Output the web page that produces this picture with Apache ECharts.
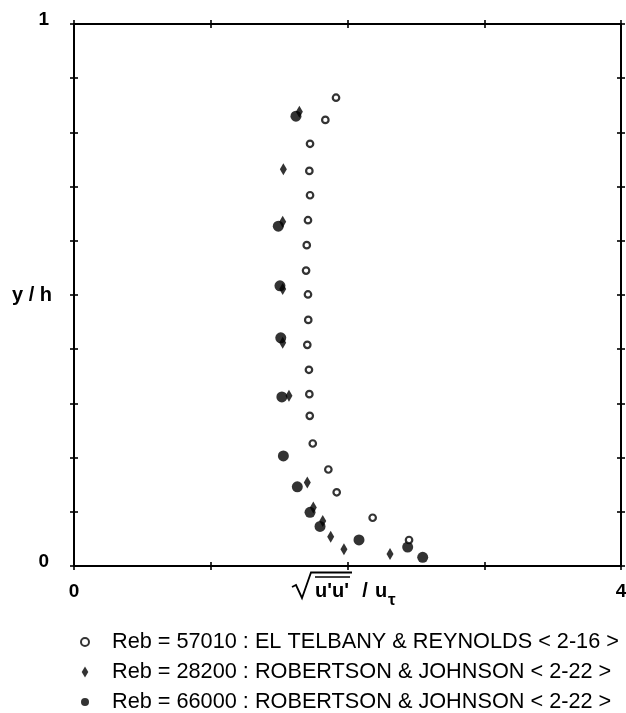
<!DOCTYPE html>
<html>
<head>
<meta charset="utf-8">
<script src="https://cdn.jsdelivr.net/npm/echarts@6/dist/echarts.min.js"></script>
<style>
  html, body { margin: 0; padding: 0; background: #fff; }
  #chart { width: 626px; height: 713px; }
</style>
</head>
<body>
<div id="chart"></div>
<script>
// Streamwise turbulence intensity profiles across the channel half-height
const seriesNames = [
  'Reb = 57010 : EL TELBANY & REYNOLDS < 2-16 >',
  'Reb = 28200 : ROBERTSON & JOHNSON < 2-22 >',
  'Reb = 66000 : ROBERTSON & JOHNSON < 2-22 >'
];

// El Telbany & Reynolds, Reb = 57010 (open circles)
const telbanyX = [1.916, 1.838, 1.726, 1.721, 1.726, 1.711, 1.702, 1.697, 1.711, 1.713,
                  1.706, 1.718, 1.721, 1.724, 1.746, 1.860, 1.921, 2.184, 2.450];
const telbanyY = [0.864, 0.823, 0.779, 0.729, 0.684, 0.638, 0.592, 0.545, 0.501, 0.454,
                  0.408, 0.362, 0.317, 0.277, 0.226, 0.178, 0.136, 0.089, 0.048];

// Robertson & Johnson, Reb = 28200 (diamonds)
const rj28200X = [1.648, 1.531, 1.526, 1.526, 1.526, 1.572, 1.706, 1.750, 1.819, 1.877, 1.974, 2.311];
const rj28200Y = [0.838, 0.732, 0.635, 0.511, 0.412, 0.314, 0.154, 0.108, 0.083, 0.054, 0.031, 0.022];

// Robertson & Johnson, Reb = 66000 (filled circles)
const rj66000X = [1.623, 1.494, 1.506, 1.512, 1.520, 1.531, 1.633, 1.726, 1.799, 2.084, 2.440, 2.550];
const rj66000Y = [0.830, 0.627, 0.517, 0.421, 0.312, 0.203, 0.146, 0.099, 0.073, 0.048, 0.035, 0.016];

// Axis ranges and the only tick values that carry labels
const xRange = [0, 4];
const yRange = [0, 1];
const xTickLabels = [0, 4];
const yTickLabels = [0, 1];

const FONT = '"Liberation Sans", Arial, Helvetica, sans-serif';
const INK = '#000';

function pairs(xs, ys) {
  return xs.map((x, i) => [x, ys[i]]);
}

function isLabelled(list, v) {
  return list.some(t => Math.abs(t - v) < 1e-9);
}

// Axis carrying the frame line (and, for the primary ones, the labels)
function frameAxis(dim, position, withLabels) {
  const isX = dim === 'x';
  const labelStyle = { color: INK, fontFamily: FONT, fontSize: 19, fontWeight: 'bold' };
  return {
    type: 'value',
    position: position,
    min: isX ? xRange[0] : yRange[0],
    max: isX ? xRange[1] : yRange[1],
    interval: isX ? 1 : 0.1,
    axisLine: { show: true, onZero: false, lineStyle: { color: INK, width: 2 } },
    axisTick: { show: false },
    splitLine: { show: false },
    axisLabel: withLabels ? {
      show: true,
      margin: isX ? 16 : 25,
      formatter: isX
        ? v => (isLabelled(xTickLabels, v) ? String(Math.round(v)) : '')
        : v => (isLabelled(yTickLabels, v) ? '{t|' + Math.round(v) + '}' : ''),
      ...labelStyle,
      rich: { t: Object.assign({ padding: [0, 0, 9, 0] }, labelStyle) }
    } : { show: false }
  };
}

// Tick-only axis pulled half a tick into the plot so the ticks cross the frame
function tickAxis(dim, position) {
  const isX = dim === 'x';
  return {
    type: 'value',
    position: position,
    offset: -4,
    min: isX ? xRange[0] : yRange[0],
    max: isX ? xRange[1] : yRange[1],
    interval: isX ? 1 : 0.1,
    axisLine: { show: false, onZero: false },
    axisTick: { show: true, inside: false, length: 8, lineStyle: { color: INK, width: 1.6 } },
    axisLabel: { show: false },
    splitLine: { show: false }
  };
}

const chart = echarts.init(document.getElementById('chart'), null, { renderer: 'canvas' });

const xAxes = [
  frameAxis('x', 'bottom', true),
  frameAxis('x', 'top', false),
  tickAxis('x', 'bottom'),
  tickAxis('x', 'top')
];
const yAxes = [
  frameAxis('y', 'left', true),
  frameAxis('y', 'right', false),
  tickAxis('y', 'left'),
  tickAxis('y', 'right')
];
Object.assign(yAxes[0], {
  name: 'y / h',
  nameLocation: 'middle',
  nameRotate: 0,
  nameGap: 22,
  nameMoveOverlap: false,
  nameTextStyle: { color: INK, fontFamily: FONT, fontSize: 20, fontWeight: 'bold', align: 'right', verticalAlign: 'middle' }
});

chart.setOption({
  backgroundColor: '#fff',
  animation: false,
  grid: { left: 74, right: 5, top: 24, bottom: 147, containLabel: false, outerBoundsMode: 'none' },
  xAxis: xAxes,
  yAxis: yAxes,
  legend: {
    orient: 'vertical',
    left: 80,
    top: 631,
    padding: 0,
    itemGap: 8,
    itemWidth: 8,
    itemHeight: 11,
    selectedMode: false,
    data: [
      { name: seriesNames[0], icon: 'circle' },
      { name: seriesNames[1], icon: 'path://M0,-5L3,0L0,5L-3,0Z' },
      { name: seriesNames[2], icon: 'circle' }
    ],
    textStyle: { color: INK, fontFamily: FONT, fontSize: 21.7, lineHeight: 22, padding: [0, 0, 0, 18] }
  },
  graphic: [
    // axis title: sqrt(u'u') / u_tau
    {
      type: 'polyline',
      shape: { points: [[292, 587], [296, 585], [302, 598], [311, 572.5], [352, 572.5]] },
      style: { stroke: INK, lineWidth: 1.8, fill: null }
    },
    {
      type: 'line',
      shape: { x1: 315, y1: 577, x2: 350, y2: 577 },
      style: { stroke: INK, lineWidth: 1.6 }
    },
    {
      type: 'text', x: 315, y: 591,
      style: { text: "u'u'", fill: INK, font: 'bold 20px ' + FONT, verticalAlign: 'middle', align: 'left' }
    },
    {
      type: 'text', x: 365, y: 591,
      style: { text: '/', fill: INK, font: 'bold 20px ' + FONT, verticalAlign: 'middle', align: 'center' }
    },
    {
      type: 'text', x: 375, y: 591,
      style: { text: 'u', fill: INK, font: 'bold 20px ' + FONT, verticalAlign: 'middle', align: 'left' }
    },
    {
      type: 'text', x: 388, y: 600,
      style: { text: 'τ', fill: INK, font: 'bold 17px ' + FONT, verticalAlign: 'middle', align: 'left' }
    }
  ],
  series: [
    {
      name: seriesNames[1],
      type: 'scatter',
      xAxisIndex: 0, yAxisIndex: 0,
      symbol: 'diamond',
      symbolSize: [7, 12],
      itemStyle: { color: INK },
      data: pairs(rj28200X, rj28200Y),
      z: 3
    },
    {
      name: seriesNames[2],
      type: 'scatter',
      xAxisIndex: 0, yAxisIndex: 0,
      symbol: 'circle',
      symbolSize: 11,
      itemStyle: { color: INK },
      data: pairs(rj66000X, rj66000Y),
      z: 4
    },
    {
      name: seriesNames[0],
      type: 'scatter',
      xAxisIndex: 0, yAxisIndex: 0,
      symbol: 'circle',
      symbolSize: 6.5,
      itemStyle: { color: '#fff', borderColor: INK, borderWidth: 2.2 },
      data: pairs(telbanyX, telbanyY),
      z: 5
    }
  ]
});
</script>
</body>
</html>
